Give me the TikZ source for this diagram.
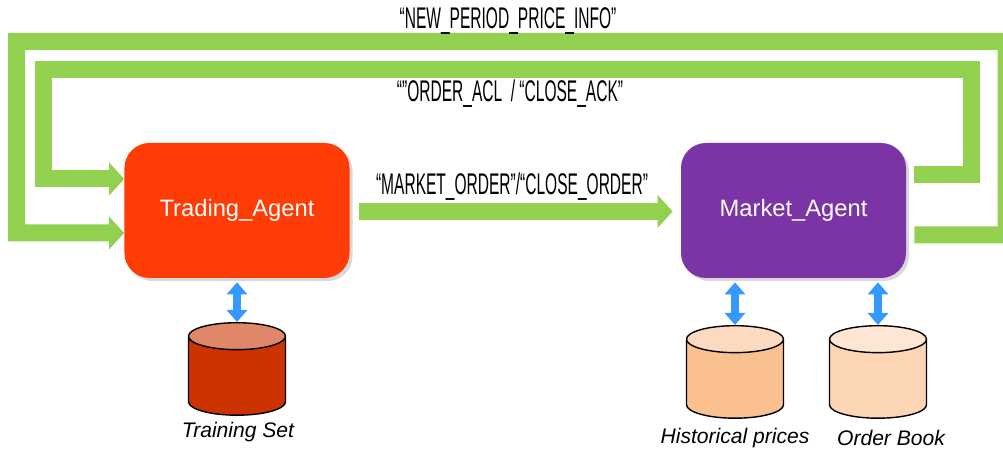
\documentclass[tikz,border=0pt]{standalone}
\usepackage{fontspec}
\setmainfont{Liberation Sans}
\newfontfamily\msgfont[FakeStretch=0.52]{Liberation Sans}
\usetikzlibrary{arrows.meta,positioning,shapes.geometric,shadows}

\definecolor{tradingred}{RGB}{255,60,5}
\definecolor{marketpurple}{RGB}{122,52,166}
\definecolor{flowgreen}{RGB}{146,208,80}
\definecolor{linkblue}{RGB}{51,153,255}

\begin{document}
\begin{tikzpicture}[
    x=0.2mm,
    y=-0.2mm,
    agent/.style={
      rectangle,
      text=white,
      font=\fontsize{13.5}{15}\selectfont,
      minimum width=4.5cm,
      minimum height=2.7cm,
      rounded corners=5mm,
      drop shadow={opacity=0.3, shadow xshift=0.6mm, shadow yshift=-0.6mm}
    },
    store/.style={
      cylinder,
      shape border rotate=90,
      anchor=north,
      draw,
      thick,
      aspect=2.3,
      minimum width=1.94cm,
      minimum height=1.85cm,
      cylinder uses custom fill
    },
    flow/.style={draw, flowgreen, line width=3.4mm, -{Triangle[width=6.4mm,length=3mm]}},
    link/.style={draw, linkblue, line width=1.6mm, {Triangle[width=4mm,length=2.4mm]}-{Triangle[width=4mm,length=2.4mm]}, shorten <=0.8mm},
    msg/.style={font=\msgfont\fontsize{17}{19}\selectfont},
    caption/.style={font=\itshape\fontsize{12}{14}\selectfont}
]
    \useasboundingbox (0,0) rectangle (1003,450);
    \clip (0,0) rectangle (1003,450);

    % Nodes
    \node [agent, fill=tradingred] (trading) at (237,210.5) {Trading\_Agent};
    \node [agent, fill=marketpurple] (market) at (793.5,210.5) {Market\_Agent};
    \node [store, cylinder body fill={rgb,255:red,204;green,51;blue,0}, cylinder end fill={rgb,255:red,224;green,135;blue,106}] (trainset) at (237,322) {};
    \node [store, cylinder body fill={rgb,255:red,250;green,192;blue,143}, cylinder end fill={rgb,255:red,251;green,218;blue,192}] (histprices) at (735,325) {};
    \node [store, cylinder body fill={rgb,255:red,252;green,213;blue,180}, cylinder end fill={rgb,255:red,253;green,230;blue,212}] (orderbook) at (878,325) {};

    % Edges
    \path [flow] ([shift={(8,24.5)}]market.east) -| (1006,41.5) -| (16.5,233) -- ([shift={(0,22.5)}]trading.west);
    \path [flow] ([shift={(8,-35.5)}]market.east) -| (971.5,70) -| (43,179) -- ([shift={(0,-31.5)}]trading.west);
    \path [flow, shorten >=1.6mm] ([shift={(9,1)}]trading.east) -- ([shift={(0,1)}]market.west);
    \path [link] (trading.south) -- (trainset.north);
    \path [link] (market.south -| histprices.north) -- (histprices.north);
    \path [link] (market.south -| orderbook.north) -- (orderbook.north);

    % Annotations
    \node [msg] (newperiod) at (508,21) {“NEW\_PERIOD\_PRICE\_INFO”};
    \node [msg] (orderack) at (510,94) {“”ORDER\_ACL~~/~“CLOSE\_ACK”};
    \node [msg] (marketorder) at (512,187) {“MARKET\_ORDER”/“CLOSE\_ORDER”};
    \node [caption] (trainlabel) at (238,432) {Training Set};
    \node [caption] (histlabel) at (735,438) {Historical prices};
    \node [caption] (booklabel) at (891,438) {Order Book};

\end{tikzpicture}
\end{document}
